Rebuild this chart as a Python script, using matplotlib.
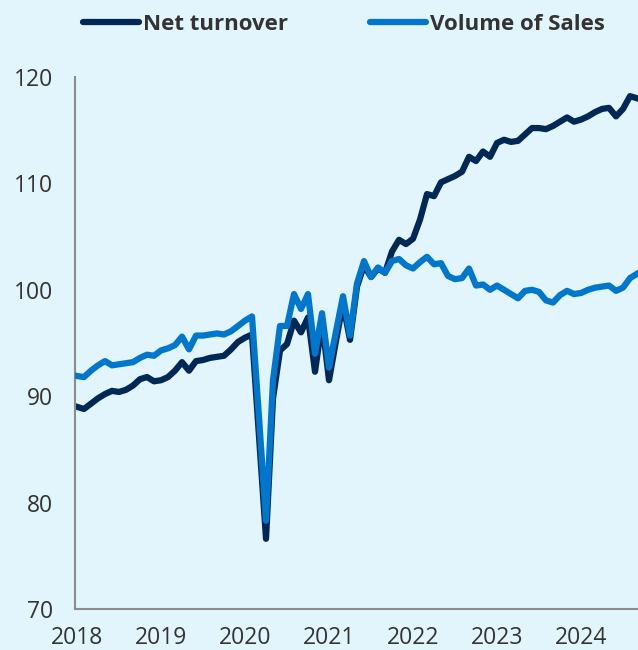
import numpy as np
import matplotlib
matplotlib.use("Agg")
import matplotlib.pyplot as plt
from matplotlib.lines import Line2D

# monthly index values, Jan 2018 onwards
net_turnover = [
    89.0, 88.8, 89.3, 89.8, 90.2, 90.5, 90.4, 90.6, 91.0, 91.6, 91.8, 91.4,
    91.5, 91.8, 92.4, 93.2, 92.4, 93.3, 93.4, 93.6, 93.7, 93.8, 94.4, 95.1,
    95.5, 95.8, 86.2, 76.6, 89.8, 94.3, 94.9, 97.1, 96.0, 97.4, 92.3, 97.0,
    91.5, 95.2, 98.7, 95.3, 100.3, 102.3, 101.2, 102.0, 101.6, 103.6, 104.7, 104.3,
    104.8, 106.6, 109.0, 108.8, 110.1, 110.4, 110.7, 111.1, 112.5, 112.1, 113.0, 112.5,
    113.8, 114.1, 113.9, 114.0, 114.6, 115.2, 115.2, 115.1, 115.4, 115.8, 116.2, 115.8,
    116.0, 116.3, 116.7, 117.0, 117.1, 116.3, 117.0, 118.2, 118.0,
]
volume_of_sales = [
    91.9, 91.8, 92.4, 92.9, 93.3, 92.9, 93.0, 93.1, 93.2, 93.6, 93.9, 93.8,
    94.3, 94.5, 94.8, 95.6, 94.4, 95.7, 95.7, 95.8, 95.9, 95.8, 96.1, 96.6,
    97.1, 97.5, 88.0, 78.3, 91.5, 96.6, 96.6, 99.6, 98.2, 99.6, 94.0, 97.8,
    92.7, 96.1, 99.4, 95.7, 100.6, 102.7, 101.2, 102.1, 101.6, 102.7, 102.9, 102.3,
    102.0, 102.6, 103.1, 102.4, 102.5, 101.3, 101.0, 101.1, 102.0, 100.4, 100.5, 100.0,
    100.4, 100.0, 99.6, 99.2, 99.9, 100.0, 99.8, 99.0, 98.8, 99.5, 99.9, 99.6,
    99.7, 100.0, 100.2, 100.3, 100.4, 99.9, 100.2, 101.1, 101.5,
]
years = ["2018", "2019", "2020", "2021", "2022", "2023", "2024"]

BG = "#E2F4FC"
DARK = "#002855"
LIGHT = "#0077CC"
TEXT = "#333333"

plt.rcParams["font.family"] = ["Open Sans", "DejaVu Sans"]

fig = plt.figure(figsize=(6.38, 6.5), dpi=100, facecolor=BG)
ax = fig.add_axes([75 / 638, 41 / 650, 563 / 638, 532 / 650], facecolor=BG)

x = np.arange(len(net_turnover))
ax.plot(x, net_turnover, color=DARK, lw=4.5, solid_joinstyle="round", zorder=2)
ax.plot(x, volume_of_sales, color=LIGHT, lw=4.5, solid_joinstyle="round", zorder=3)

ax.set_xlim(-2 / 7, 80.14)
ax.set_ylim(70, 120)
ax.set_yticks([70, 80, 90, 100, 110, 120])
ax.set_xticks(np.arange(len(years)) * 12)
ax.set_xticklabels(years)

for side in ["top", "right"]:
    ax.spines[side].set_visible(False)
for side in ["left", "bottom"]:
    ax.spines[side].set_color("#8c8c8c")
    ax.spines[side].set_linewidth(1.5)

ax.tick_params(axis="both", length=0, labelsize=16.5, colors=TEXT)
ax.tick_params(axis="y", pad=16)
ax.tick_params(axis="x", pad=12)

handles = [
    Line2D([], [], color=DARK, lw=4.5, solid_capstyle="round"),
    Line2D([], [], color=LIGHT, lw=4.5, solid_capstyle="round"),
]
fig.legend(handles, ["Net turnover", "Volume of Sales"], loc="center",
           bbox_to_anchor=(344 / 638, 1 - 24 / 650), ncol=2, frameon=False,
           handlelength=2.5, handletextpad=0.18, columnspacing=3.7,
           prop={"weight": "bold", "size": 16}, labelcolor=TEXT)

fig.savefig("out.png", dpi=100, facecolor=BG)
